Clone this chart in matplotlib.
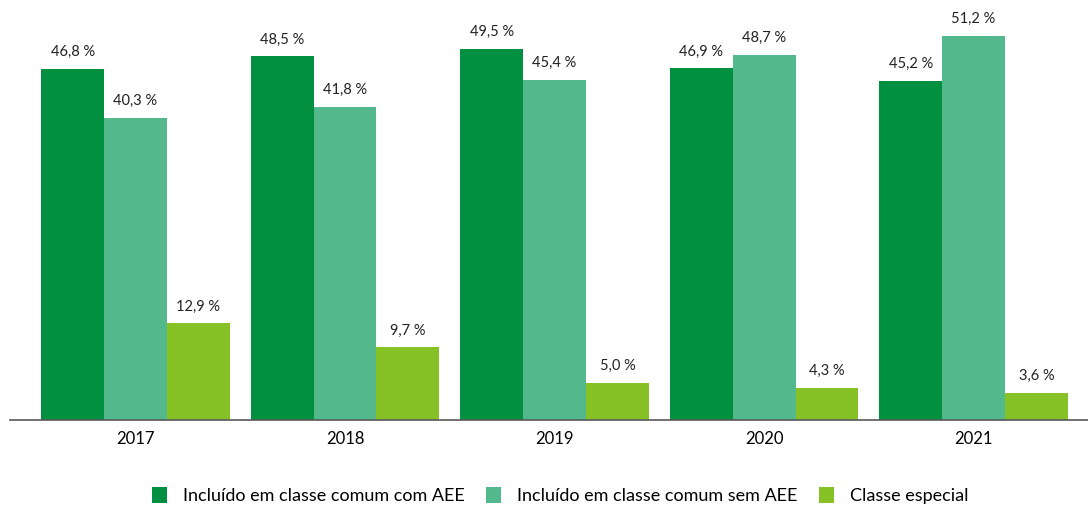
import numpy as np
import matplotlib.pyplot as plt

plt.rcParams['font.family'] = ['Lato', 'DejaVu Sans']

years = ['2017', '2018', '2019', '2020', '2021']
com_aee = [46.8, 48.5, 49.5, 46.9, 45.2]
sem_aee = [40.3, 41.8, 45.4, 48.7, 51.2]
especial = [12.9, 9.7, 5.0, 4.3, 3.6]

series = [
    ('Incluído em classe comum com AEE', com_aee, '#00903F'),
    ('Incluído em classe comum sem AEE', sem_aee, '#53B88B'),
    ('Classe especial', especial, '#86C226'),
]

fig = plt.figure(figsize=(10.88, 5.08), dpi=100)
ax = fig.add_axes([0.0, 0.1732, 1.0, 0.8268])

x = np.arange(len(years))
w = 0.3
for i, (name, vals, color) in enumerate(series):
    pos = x + (i - 1) * w
    ax.bar(pos, vals, width=w, color=color, label=name)
    for px, v in zip(pos, vals):
        ax.text(px, v + 1.3, f'{v:.1f} %'.replace('.', ','), ha='center', va='bottom',
                fontsize=10.5, color='#222222')

ax.set_xlim(-0.647, 4.546)
ax.set_ylim(0, 56)
ax.set_xticks(x)
ax.set_xticklabels(years, fontsize=12)
ax.tick_params(axis='x', length=0, pad=8)
ax.set_yticks([])
for s in ['top', 'right', 'left']:
    ax.spines[s].set_visible(False)
ax.spines['bottom'].set_color('#595959')
ax.spines['bottom'].set_linewidth(1.2)
ax.spines['bottom'].set_bounds(-0.6, 4.546)

fig.legend(loc='lower center', bbox_to_anchor=(0.515, -0.025), ncol=3, frameon=False,
           fontsize=13, handlelength=0.8, handleheight=1.0, columnspacing=1.2,
           handletextpad=0.9)

fig.savefig('out.png', dpi=100)
